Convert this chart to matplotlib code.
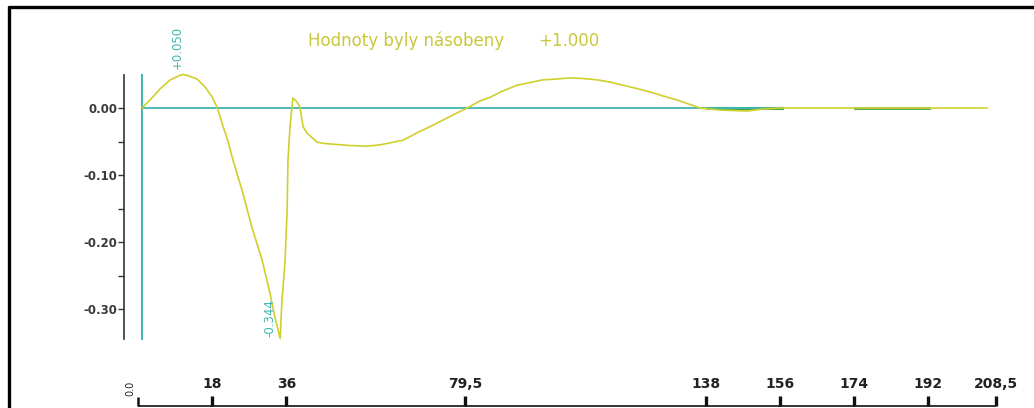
import matplotlib
matplotlib.use("Agg")
import matplotlib.pyplot as plt
from matplotlib.lines import Line2D

# Curve samples (position, value)
curve_x = [0, 1.95, 4.39, 6.83, 9.27, 10.0, 10.98, 13.4, 15.4, 17.1, 18.3, 19.8, 21.0,
           22.2, 24.6, 26.8, 29.3, 31.2, 32.4, 33.7, 34.1, 34.9, 35.4, 35.6, 36.1, 36.8,
           37.8, 38.5, 39.3, 40.2, 42.7, 44.6, 46.6, 50.7, 54.9, 58.0, 60.5, 63.7, 67.1,
           70.2, 73.4, 76.3, 79.3, 82.4, 84.9, 88.0, 91.5, 94.6, 97.8, 101.2, 104.4,
           107.6, 111.0, 114.1, 117.3, 120.7, 123.9, 127.1, 130.5, 133.7, 136.1, 141.0,
           147.6, 151.5, 155.6, 174.0, 192.0, 206.1]
curve_y = [0.0, 0.0119, 0.0284, 0.0418, 0.0488, 0.050, 0.0488, 0.0433, 0.0313, 0.0164,
           0.0015, -0.028, -0.050, -0.078, -0.127, -0.178, -0.227, -0.276, -0.312, -0.344,
           -0.291, -0.227, -0.152, -0.078, -0.028, 0.015, 0.009, 0.0015, -0.028, -0.037,
           -0.051, -0.053, -0.054, -0.056, -0.057, -0.055, -0.052, -0.048, -0.037, -0.028,
           -0.018, -0.009, 0.0, 0.0104, 0.016, 0.0254, 0.034, 0.038, 0.042, 0.0433, 0.045,
           0.044, 0.042, 0.0388, 0.034, 0.029, 0.024, 0.0179, 0.012, 0.0052, 0.0, -0.003,
           -0.0045, -0.0015, 0.0, 0.0, 0.0, 0.0]

y_ticks = [0.0, -0.10, -0.20, -0.30]
y_tick_labels = ["0.00", "-0.10", "-0.20", "-0.30"]
y_minor = [-0.05, -0.15, -0.25]

peak_label = "+0.050"
peak_x, peak_y = 10.0, 0.050
min_label = "-0.344"
min_x, min_y = 33.7, -0.344

title_text = "Hodnoty byly násobeny"
title_factor = "+1.000"

scale_values = [0, 18, 36, 79.5, 138, 156, 174, 192, 208.5]
scale_labels = ["0.0", "18", "36", "79,5", "138", "156", "174", "192", "208,5"]

YELLOW = "#cfcf2e"
TEAL = "#3fb5b0"
GREEN = "#3ea84a"
DARK = "#333333"

W, H = 1034, 408
fig = plt.figure(figsize=(W / 100, H / 100), dpi=100)

def fx(px):
    return px / W

def fy(py):
    return 1 - py / H

# main plot area
ax = fig.add_axes([fx(124), fy(338.5), fx(1000) - fx(124), fy(74.5) - fy(338.5)])
ax.set_xlim((124 - 142) / 4.1, (1000 - 142) / 4.1)
ax.set_ylim(-0.344, 0.050)
for s in ("top", "right", "bottom"):
    ax.spines[s].set_visible(False)
ax.spines["left"].set_color(DARK)
ax.spines["left"].set_linewidth(1.2)
ax.set_xticks([])
ax.set_yticks(y_ticks)
ax.set_yticklabels(y_tick_labels, fontfamily="DejaVu Sans", fontweight="bold",
                   fontsize=8.5, color="#3a3a3a")
ax.set_yticks(y_minor, minor=True)
ax.tick_params(axis="y", which="both", length=4, width=1, color=DARK, pad=1)
ax.patch.set_alpha(0)

# reference lines
ax.plot([0, 0], [-0.344, 0.050], color=TEAL, lw=1.4, clip_on=False)
ax.plot([0, 156], [0, 0], color=TEAL, lw=1.3, zorder=2)
ax.plot([138, 156], [0, 0], color=GREEN, lw=2.2, zorder=1.9)
ax.plot([174, 192], [0, 0], color=GREEN, lw=2.0, zorder=1.9)

# curve
ax.plot(curve_x, curve_y, color=YELLOW, lw=1.2, clip_on=False, zorder=3)

ax.annotate(peak_label, (peak_x, peak_y), xytext=(-4, 4), textcoords="offset points",
            rotation=90, ha="center", va="bottom", color=TEAL, fontsize=8.5,
            fontfamily="Liberation Sans Narrow", annotation_clip=False)
ax.annotate(min_label, (min_x, min_y), xytext=(-2.5, 1), textcoords="offset points",
            rotation=90, ha="right", va="bottom", color=TEAL, fontsize=8.5,
            fontfamily="Liberation Sans Narrow", annotation_clip=False)

fig.text(fx(406), fy(41), title_text, ha="center", va="center", color="#c8c83a",
         fontsize=12, fontfamily="DejaVu Sans")
fig.text(fx(569), fy(41), title_factor, ha="center", va="center", color="#c8c83a",
         fontsize=12, fontfamily="DejaVu Sans")

# scale strip along the bottom
bx = fig.add_axes([fx(110), 0, fx(1020) - fx(110), fy(365)])
bx.set_xlim((110 - 138.4) / 4.112, (1020 - 138.4) / 4.112)
bx.set_ylim(0, 43)
bx.axis("off")
base = 408 - 405.5
bx.plot([scale_values[0], scale_values[-1]], [base, base], color="#111111", lw=1.2,
        solid_capstyle="butt")
for v, lab in zip(scale_values, scale_labels):
    if v == 0:
        bx.plot([v, v], [base, base + 9], color="#111111", lw=1.8, solid_capstyle="butt")
        bx.annotate(lab, (v, base + 10), xytext=(-6, 0), textcoords="offset points",
                    rotation=90, ha="center", va="bottom", fontsize=7,
                    fontfamily="DejaVu Sans", color="#222222")
    else:
        bx.plot([v, v], [base, base + 10], color="#111111", lw=2.4, solid_capstyle="butt")
        bx.text(v, 408 - 384, lab, ha="center", va="center", fontsize=10,
                fontweight="bold", fontfamily="DejaVu Sans", color="#222222")

# outer frame
fig.add_artist(Line2D([fx(9), fx(9)], [fy(6), 0], color="black", lw=2.4,
                      solid_capstyle="butt"))
fig.add_artist(Line2D([fx(8), 1], [fy(7), fy(7)], color="black", lw=2.4,
                      solid_capstyle="butt"))

fig.savefig("out.png", dpi=100)
